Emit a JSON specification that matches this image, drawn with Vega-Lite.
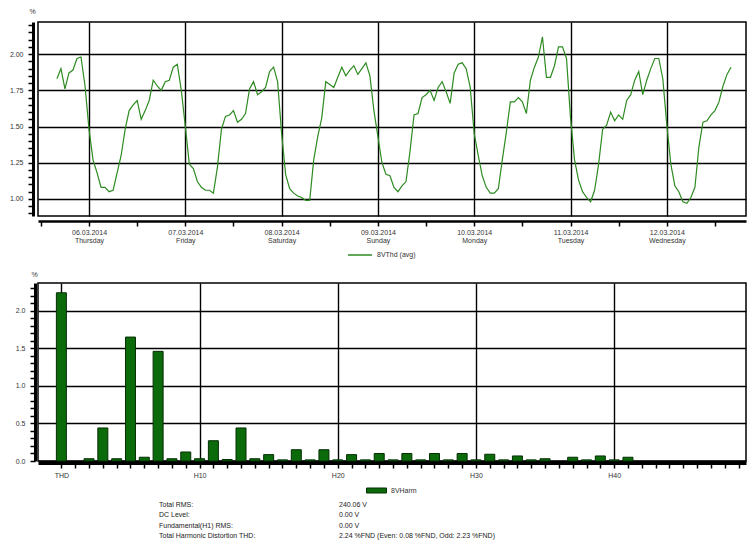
{
  "$schema": "https://vega.github.io/schema/vega-lite/v6.json",
  "background": "white",
  "padding": {"left": 8, "top": 6, "right": 1, "bottom": 2},
  "config": {
    "font": "Liberation Sans",
    "view": {"stroke": "#000", "strokeWidth": 1.5},
    "axis": {"labelFontSize": 7, "labelColor": "#333", "domainColor": "#000", "tickColor": "#000", "gridColor": "#000", "gridWidth": 1.4, "titleFontSize": 7, "titleFontWeight": "normal", "titleColor": "#333", "labelOverlap": false},
    "legend": {"labelFontSize": 7, "labelColor": "#333", "padding": 0}
  },
  "spacing": 10,
  "resolve": {"legend": {"color": "independent", "fill": "independent"}},
  "datasets": {
    "thd": [
      {"t":"2014-03-05T16:00","v":1.83},{"t":"2014-03-05T17:00","v":1.90},{"t":"2014-03-05T18:00","v":1.76},{"t":"2014-03-05T19:00","v":1.87},{"t":"2014-03-05T20:00","v":1.89},{"t":"2014-03-05T21:00","v":1.97},{"t":"2014-03-05T22:00","v":1.98},{"t":"2014-03-05T23:00","v":1.78},
      {"t":"2014-03-06T00:00","v":1.48},{"t":"2014-03-06T01:00","v":1.27},{"t":"2014-03-06T02:00","v":1.18},{"t":"2014-03-06T03:00","v":1.08},{"t":"2014-03-06T04:00","v":1.08},{"t":"2014-03-06T05:00","v":1.05},{"t":"2014-03-06T06:00","v":1.06},{"t":"2014-03-06T07:00","v":1.18},{"t":"2014-03-06T08:00","v":1.30},{"t":"2014-03-06T09:00","v":1.48},{"t":"2014-03-06T10:00","v":1.61},{"t":"2014-03-06T11:00","v":1.65},{"t":"2014-03-06T12:00","v":1.68},{"t":"2014-03-06T13:00","v":1.55},{"t":"2014-03-06T14:00","v":1.61},{"t":"2014-03-06T15:00","v":1.68},{"t":"2014-03-06T16:00","v":1.82},{"t":"2014-03-06T17:00","v":1.78},{"t":"2014-03-06T18:00","v":1.75},{"t":"2014-03-06T19:00","v":1.81},{"t":"2014-03-06T20:00","v":1.82},{"t":"2014-03-06T21:00","v":1.91},{"t":"2014-03-06T22:00","v":1.93},{"t":"2014-03-06T23:00","v":1.75},
      {"t":"2014-03-07T00:00","v":1.50},{"t":"2014-03-07T01:00","v":1.24},{"t":"2014-03-07T02:00","v":1.21},{"t":"2014-03-07T03:00","v":1.12},{"t":"2014-03-07T04:00","v":1.08},{"t":"2014-03-07T05:00","v":1.06},{"t":"2014-03-07T06:00","v":1.06},{"t":"2014-03-07T07:00","v":1.04},{"t":"2014-03-07T08:00","v":1.22},{"t":"2014-03-07T09:00","v":1.48},{"t":"2014-03-07T10:00","v":1.57},{"t":"2014-03-07T11:00","v":1.58},{"t":"2014-03-07T12:00","v":1.61},{"t":"2014-03-07T13:00","v":1.53},{"t":"2014-03-07T14:00","v":1.55},{"t":"2014-03-07T15:00","v":1.59},{"t":"2014-03-07T16:00","v":1.76},{"t":"2014-03-07T17:00","v":1.81},{"t":"2014-03-07T18:00","v":1.72},{"t":"2014-03-07T19:00","v":1.74},{"t":"2014-03-07T20:00","v":1.77},{"t":"2014-03-07T21:00","v":1.88},{"t":"2014-03-07T22:00","v":1.91},{"t":"2014-03-07T23:00","v":1.81},
      {"t":"2014-03-08T00:00","v":1.45},{"t":"2014-03-08T01:00","v":1.17},{"t":"2014-03-08T02:00","v":1.07},{"t":"2014-03-08T03:00","v":1.04},{"t":"2014-03-08T04:00","v":1.02},{"t":"2014-03-08T05:00","v":1.01},{"t":"2014-03-08T06:00","v":0.99},{"t":"2014-03-08T07:00","v":0.99},{"t":"2014-03-08T08:00","v":1.27},{"t":"2014-03-08T09:00","v":1.43},{"t":"2014-03-08T10:00","v":1.56},{"t":"2014-03-08T11:00","v":1.81},{"t":"2014-03-08T12:00","v":1.79},{"t":"2014-03-08T13:00","v":1.77},{"t":"2014-03-08T14:00","v":1.84},{"t":"2014-03-08T15:00","v":1.91},{"t":"2014-03-08T16:00","v":1.85},{"t":"2014-03-08T17:00","v":1.89},{"t":"2014-03-08T18:00","v":1.92},{"t":"2014-03-08T19:00","v":1.86},{"t":"2014-03-08T20:00","v":1.90},{"t":"2014-03-08T21:00","v":1.94},{"t":"2014-03-08T22:00","v":1.85},{"t":"2014-03-08T23:00","v":1.61},
      {"t":"2014-03-09T00:00","v":1.43},{"t":"2014-03-09T01:00","v":1.25},{"t":"2014-03-09T02:00","v":1.17},{"t":"2014-03-09T03:00","v":1.16},{"t":"2014-03-09T04:00","v":1.08},{"t":"2014-03-09T05:00","v":1.05},{"t":"2014-03-09T06:00","v":1.09},{"t":"2014-03-09T07:00","v":1.12},{"t":"2014-03-09T08:00","v":1.33},{"t":"2014-03-09T09:00","v":1.58},{"t":"2014-03-09T10:00","v":1.59},{"t":"2014-03-09T11:00","v":1.70},{"t":"2014-03-09T12:00","v":1.72},{"t":"2014-03-09T13:00","v":1.75},{"t":"2014-03-09T14:00","v":1.68},{"t":"2014-03-09T15:00","v":1.77},{"t":"2014-03-09T16:00","v":1.81},{"t":"2014-03-09T17:00","v":1.74},{"t":"2014-03-09T18:00","v":1.66},{"t":"2014-03-09T19:00","v":1.87},{"t":"2014-03-09T20:00","v":1.93},{"t":"2014-03-09T21:00","v":1.94},{"t":"2014-03-09T22:00","v":1.90},{"t":"2014-03-09T23:00","v":1.77},
      {"t":"2014-03-10T00:00","v":1.45},{"t":"2014-03-10T01:00","v":1.30},{"t":"2014-03-10T02:00","v":1.16},{"t":"2014-03-10T03:00","v":1.08},{"t":"2014-03-10T04:00","v":1.04},{"t":"2014-03-10T05:00","v":1.04},{"t":"2014-03-10T06:00","v":1.07},{"t":"2014-03-10T07:00","v":1.27},{"t":"2014-03-10T08:00","v":1.46},{"t":"2014-03-10T09:00","v":1.67},{"t":"2014-03-10T10:00","v":1.67},{"t":"2014-03-10T11:00","v":1.70},{"t":"2014-03-10T12:00","v":1.67},{"t":"2014-03-10T13:00","v":1.59},{"t":"2014-03-10T14:00","v":1.82},{"t":"2014-03-10T15:00","v":1.91},{"t":"2014-03-10T16:00","v":1.98},{"t":"2014-03-10T17:00","v":2.12},{"t":"2014-03-10T18:00","v":1.84},{"t":"2014-03-10T19:00","v":1.84},{"t":"2014-03-10T20:00","v":1.92},{"t":"2014-03-10T21:00","v":2.05},{"t":"2014-03-10T22:00","v":2.05},{"t":"2014-03-10T23:00","v":1.97},
      {"t":"2014-03-11T00:00","v":1.56},{"t":"2014-03-11T01:00","v":1.27},{"t":"2014-03-11T02:00","v":1.13},{"t":"2014-03-11T03:00","v":1.05},{"t":"2014-03-11T04:00","v":1.01},{"t":"2014-03-11T05:00","v":0.98},{"t":"2014-03-11T06:00","v":1.06},{"t":"2014-03-11T07:00","v":1.24},{"t":"2014-03-11T08:00","v":1.48},{"t":"2014-03-11T09:00","v":1.51},{"t":"2014-03-11T10:00","v":1.60},{"t":"2014-03-11T11:00","v":1.54},{"t":"2014-03-11T12:00","v":1.58},{"t":"2014-03-11T13:00","v":1.55},{"t":"2014-03-11T14:00","v":1.68},{"t":"2014-03-11T15:00","v":1.72},{"t":"2014-03-11T16:00","v":1.82},{"t":"2014-03-11T17:00","v":1.88},{"t":"2014-03-11T18:00","v":1.72},{"t":"2014-03-11T19:00","v":1.82},{"t":"2014-03-11T20:00","v":1.90},{"t":"2014-03-11T21:00","v":1.97},{"t":"2014-03-11T22:00","v":1.97},{"t":"2014-03-11T23:00","v":1.83},
      {"t":"2014-03-12T00:00","v":1.51},{"t":"2014-03-12T01:00","v":1.24},{"t":"2014-03-12T02:00","v":1.09},{"t":"2014-03-12T03:00","v":1.05},{"t":"2014-03-12T04:00","v":0.98},{"t":"2014-03-12T05:00","v":0.97},{"t":"2014-03-12T06:00","v":1.01},{"t":"2014-03-12T07:00","v":1.08},{"t":"2014-03-12T08:00","v":1.36},{"t":"2014-03-12T09:00","v":1.53},{"t":"2014-03-12T10:00","v":1.54},{"t":"2014-03-12T11:00","v":1.58},{"t":"2014-03-12T12:00","v":1.61},{"t":"2014-03-12T13:00","v":1.67},{"t":"2014-03-12T14:00","v":1.78},{"t":"2014-03-12T15:00","v":1.86},{"t":"2014-03-12T16:00","v":1.91}
    ],
    "harm": [
      {"n":0,"pct":2.24},{"n":2,"pct":0.03},{"n":3,"pct":0.44},{"n":4,"pct":0.03},{"n":5,"pct":1.65},{"n":6,"pct":0.05},{"n":7,"pct":1.46},{"n":8,"pct":0.03},{"n":9,"pct":0.12},{"n":10,"pct":0.03},
      {"n":11,"pct":0.27},{"n":12,"pct":0.02},{"n":13,"pct":0.44},{"n":14,"pct":0.03},{"n":15,"pct":0.085},{"n":16,"pct":0.015},{"n":17,"pct":0.15},{"n":18,"pct":0.015},{"n":19,"pct":0.15},{"n":20,"pct":0.015},
      {"n":21,"pct":0.085},{"n":22,"pct":0.015},{"n":23,"pct":0.10},{"n":24,"pct":0.015},{"n":25,"pct":0.10},{"n":26,"pct":0.015},{"n":27,"pct":0.10},{"n":28,"pct":0.015},{"n":29,"pct":0.10},{"n":30,"pct":0.015},
      {"n":31,"pct":0.09},{"n":32,"pct":0.015},{"n":33,"pct":0.067},{"n":34,"pct":0.015},{"n":35,"pct":0.03},{"n":37,"pct":0.05},{"n":38,"pct":0.015},{"n":39,"pct":0.067},{"n":40,"pct":0.015},{"n":41,"pct":0.05}
    ]
  },
  "vconcat": [
    {
      "width": 708,
      "height": 194,
      "data": {"name": "thd"},
      "mark": {"type": "line", "strokeWidth": 1.2},
      "encoding": {
        "x": {
          "field": "t", "type": "temporal",
          "scale": {"domain": [{"year": 2014, "month": 3, "date": 5, "hours": 11, "minutes": 17}, {"year": 2014, "month": 3, "date": 12, "hours": 19, "minutes": 44}], "nice": false},
          "axis": {
            "title": null,
            "values": [
              {"year": 2014, "month": 3, "date": 5, "hours": 12}, {"year": 2014, "month": 3, "date": 6, "hours": 0}, {"year": 2014, "month": 3, "date": 6, "hours": 12},
              {"year": 2014, "month": 3, "date": 7, "hours": 0}, {"year": 2014, "month": 3, "date": 7, "hours": 12}, {"year": 2014, "month": 3, "date": 8, "hours": 0},
              {"year": 2014, "month": 3, "date": 8, "hours": 12}, {"year": 2014, "month": 3, "date": 9, "hours": 0}, {"year": 2014, "month": 3, "date": 9, "hours": 12},
              {"year": 2014, "month": 3, "date": 10, "hours": 0}, {"year": 2014, "month": 3, "date": 10, "hours": 12}, {"year": 2014, "month": 3, "date": 11, "hours": 0},
              {"year": 2014, "month": 3, "date": 11, "hours": 12}, {"year": 2014, "month": 3, "date": 12, "hours": 0}, {"year": 2014, "month": 3, "date": 12, "hours": 12}
            ],
            "labelExpr": "hours(datum.value) == 0 ? [timeFormat(datum.value, '%d.%m.%Y'), timeFormat(datum.value, '%A')] : ''",
            "gridOpacity": {"condition": {"test": "hours(datum.value) == 0", "value": 1}, "value": 0},
            "offset": 5, "domainWidth": 2.5, "tickSize": 5, "tickWidth": 1.5, "labelPadding": 2, "labelFlush": false, "labelLineHeight": 8
          }
        },
        "y": {
          "field": "v", "type": "quantitative",
          "scale": {"domain": [0.882, 2.222], "zero": false, "nice": false},
          "axis": {
            "values": [0.9, 0.95, 1, 1.05, 1.1, 1.15, 1.2, 1.25, 1.3, 1.35, 1.4, 1.45, 1.5, 1.55, 1.6, 1.65, 1.7, 1.75, 1.8, 1.85, 1.9, 1.95, 2, 2.05, 2.1, 2.15, 2.2],
            "labelExpr": "abs(datum.value*4 - round(datum.value*4)) < 0.01 ? format(datum.value, '.2f') : ''",
            "gridOpacity": {"condition": {"test": "abs(datum.value*4 - round(datum.value*4)) < 0.01", "value": 1}, "value": 0},
            "offset": 5, "domainWidth": 3, "tickSize": 5, "tickWidth": 1.5, "labelPadding": 5,
            "title": "%", "titleAngle": 0, "titleX": -4, "titleY": -8, "titleAlign": "left", "titleBaseline": "bottom"
          }
        },
        "color": {
          "datum": "8VThd (avg)", "type": "nominal",
          "scale": {"range": ["#2e8b22"]},
          "legend": {"orient": "none", "legendX": 316, "legendY": 227, "title": null, "symbolType": "M-2.4,0H2.4", "symbolSize": 100, "symbolStrokeWidth": 1.5, "labelFontSize": 7, "labelOffset": 11}
        }
      }
    },
    {
      "spacing": 4,
      "resolve": {"legend": {"color": "independent", "fill": "independent"}},
      "vconcat": [
        {
          "width": 708,
          "height": 178,
          "data": {"name": "harm"},
          "mark": {"type": "bar", "size": 10, "stroke": "#052e05", "strokeWidth": 1},
          "encoding": {
            "x": {
              "field": "n", "type": "quantitative",
              "scale": {"domain": [-1.33, 49.18], "nice": false, "zero": false},
              "axis": {
                "title": null,
                "values": [0,1,2,3,4,5,6,7,8,9,10,11,12,13,14,15,16,17,18,19,20,21,22,23,24,25,26,27,28,29,30,31,32,33,34,35,36,37,38,39,40,41,42,43,44,45,46,47,48,49],
                "labelExpr": "datum.value == 0 ? 'THD' : (datum.value % 10 == 0 ? 'H' + datum.value : '')",
                "gridOpacity": {"condition": {"test": "datum.value % 10 == 0", "value": 1}, "value": 0},
                "offset": 2, "domainWidth": 3, "tickSize": 5, "tickWidth": 1.5, "labelPadding": 3, "labelFlush": false
              }
            },
            "y": {
              "field": "pct", "type": "quantitative",
              "scale": {"domain": [0, 2.37], "nice": false},
              "axis": {
                "values": [0, 0.1, 0.2, 0.3, 0.4, 0.5, 0.6, 0.7, 0.8, 0.9, 1, 1.1, 1.2, 1.3, 1.4, 1.5, 1.6, 1.7, 1.8, 1.9, 2, 2.1, 2.2, 2.3],
                "labelExpr": "abs(datum.value*2 - round(datum.value*2)) < 0.01 ? format(datum.value, '.1f') : ''",
                "gridOpacity": {"condition": {"test": "abs(datum.value*2 - round(datum.value*2)) < 0.01", "value": 1}, "value": 0},
                "offset": 3, "domainWidth": 3, "tickSize": 5, "tickWidth": 1.5, "labelPadding": 5,
                "title": "%", "titleAngle": 0, "titleX": -4, "titleY": -6, "titleAlign": "left", "titleBaseline": "bottom"
              }
            },
            "fill": {
              "datum": "8VHarm", "type": "nominal",
              "scale": {"range": ["#0b6b0b"]},
              "legend": {"orient": "none", "legendX": 333, "legendY": 202, "title": null, "symbolType": "M-2,-0.5H2V0.5H-2Z", "symbolSize": 100, "symbolStrokeColor": "#052e05", "symbolStrokeWidth": 1, "labelFontSize": 7, "labelOffset": 9}
            }
          }
        },
        {
          "width": 708,
          "height": 41,
          "view": {"stroke": null},
          "data": {"values": [
            {"item": "Total RMS:", "value": "240.06 V"},
            {"item": "DC Level:", "value": "0.00 V"},
            {"item": "Fundamental(H1) RMS:", "value": "0.00 V"},
            {"item": "Total Harmonic Distortion THD:", "value": "2.24 %FND (Even: 0.08 %FND, Odd: 2.23 %FND)"}
          ]},
          "transform": [{"fold": ["item", "value"], "as": ["col", "txt"]}],
          "mark": {"type": "text", "align": "left", "baseline": "middle", "fontSize": 7, "color": "#222"},
          "encoding": {
            "x": {"field": "col", "type": "nominal", "scale": {"domain": ["item", "value"], "range": [121, 301], "padding": 0}, "axis": null},
            "y": {"field": "item", "type": "nominal", "sort": null, "axis": null},
            "text": {"field": "txt"}
          }
        }
      ]
    }
  ]
}
